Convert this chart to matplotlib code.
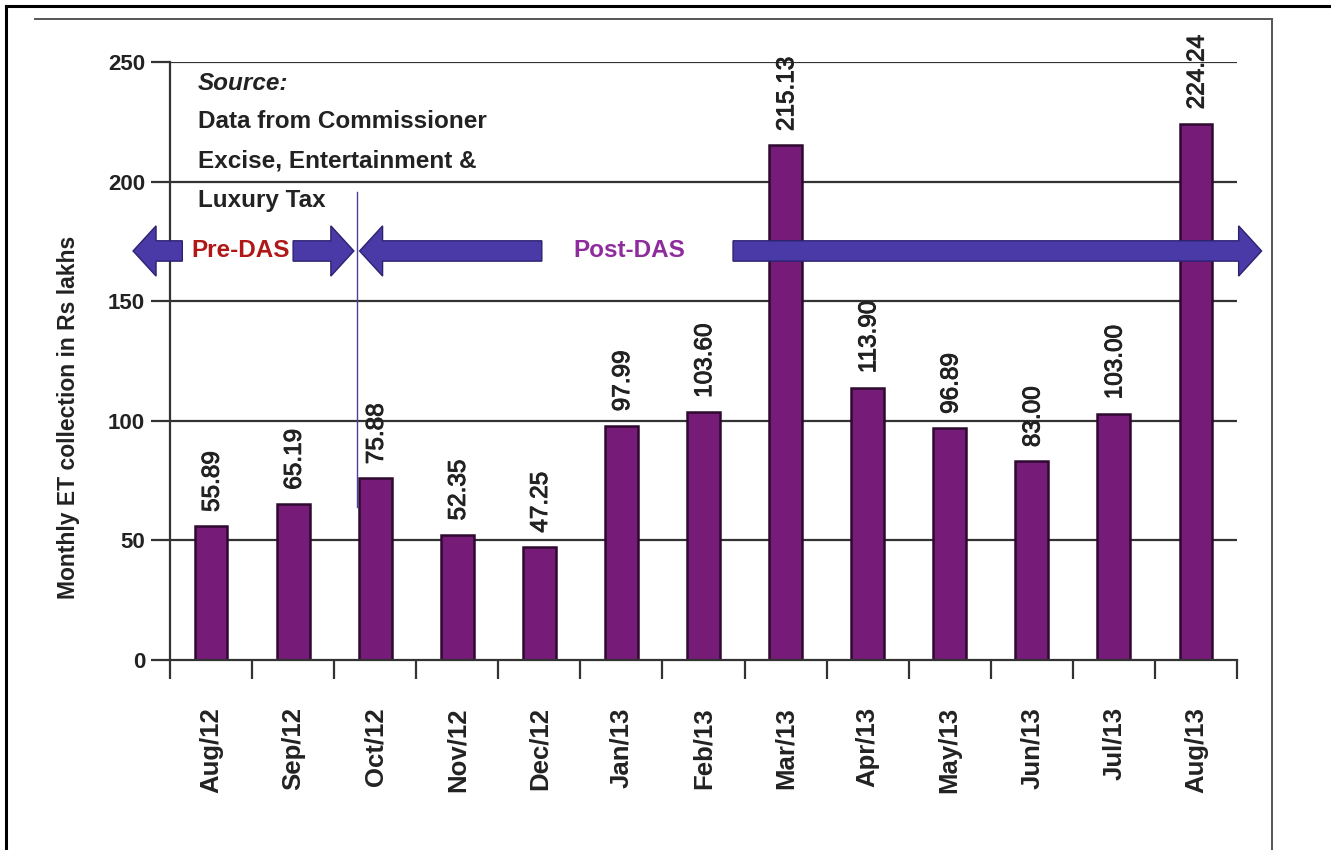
import matplotlib
matplotlib.use("Agg")
import matplotlib.pyplot as plt
from matplotlib.patches import FancyArrow
from matplotlib.lines import Line2D
import matplotlib.patheffects as pe
import numpy as np

months = ["Aug/12", "Sep/12", "Oct/12", "Nov/12", "Dec/12", "Jan/13", "Feb/13",
          "Mar/13", "Apr/13", "May/13", "Jun/13", "Jul/13", "Aug/13"]
values = [55.89, 65.19, 75.88, 52.35, 47.25, 97.99, 103.60,
          215.13, 113.90, 96.89, 83.00, 103.00, 224.24]
value_labels = ["55.89", "65.19", "75.88", "52.35", "47.25", "97.99", "103.60",
                "215.13", "113.90", "96.89", "83.00", "103.00", "224.24"]
yticks = [0, 50, 100, 150, 200, 250]
source_lines = ["Source:", "Data from Commissioner", "Excise, Entertainment &", "Luxury Tax"]

plt.rcParams['font.family'] = ['Liberation Sans', 'DejaVu Sans']

W, H = 1331, 850
fig = plt.figure(figsize=(W / 100, H / 100), dpi=100)
fig.patch.set_facecolor('white')

# outer frames (scan borders)
fig.add_artist(Line2D([6 / W, 6 / W], [0, 1 - 6 / H], color='black', lw=2.2, transform=fig.transFigure))
fig.add_artist(Line2D([6 / W, 1], [1 - 6 / H, 1 - 6 / H], color='black', lw=2.2, transform=fig.transFigure))
fig.add_artist(Line2D([35 / W, 1272 / W], [1 - 19 / H, 1 - 19 / H], color='#555555', lw=1.4, transform=fig.transFigure))
fig.add_artist(Line2D([1272 / W, 1272 / W], [0, 1 - 19 / H], color='#555555', lw=1.4, transform=fig.transFigure))

ax = fig.add_axes([170 / W, 1 - 660 / H, (1237 - 170) / W, (660 - 62) / H])
ax.set_facecolor('none')
n = len(months)
x = np.arange(n) + 0.5
ax.set_xlim(0, n)
ax.set_ylim(0, 250)

for yv in yticks[1:]:
    ax.axhline(yv, color='#333333', lw=1.6, zorder=1)

ax.bar(x, values, width=0.4, color='#761c78', edgecolor='#2e0a30', linewidth=1.8, zorder=2)

thick = [pe.withStroke(linewidth=0.7, foreground='#222222')]
for xi, v, lab in zip(x, values, value_labels):
    ax.text(xi + 0.02, v + 6, lab, rotation=90, ha='center', va='bottom',
            fontsize=17.5, color='#222222', zorder=5, path_effects=thick)

for s in ['top', 'right']:
    ax.spines[s].set_visible(False)
for s in ['left', 'bottom']:
    ax.spines[s].set_color('#333333')
    ax.spines[s].set_linewidth(1.6)

ax.set_yticks(yticks)
ax.set_yticklabels([str(t) for t in yticks], fontsize=16, fontweight='bold', color='#222222')
ax.tick_params(axis='y', length=14, width=1.6, color='#333333', pad=4)

ax.set_xticks(np.arange(n + 1))
ax.set_xticklabels([])
ax.tick_params(axis='x', which='major', length=14, width=1.6, color='#333333', direction='out')
ax.set_xticks(x, minor=True)
ax.set_xticklabels(months, minor=True, rotation=90, fontsize=18.5, fontweight='bold', color='#222222')
ax.tick_params(axis='x', which='minor', length=0, pad=34)

ax.set_ylabel("Monthly ET collection in Rs lakhs", fontsize=16.5, fontweight='bold', color='#222222')
ax.yaxis.set_label_coords(-0.084, 0.405)

# source text
ys = [241, 225, 208.5, 192]
for i, (t, yv) in enumerate(zip(source_lines, ys)):
    ax.text(0.34, yv, t, ha='left', va='center', fontsize=17.5, fontweight='bold',
            fontstyle='italic' if i == 0 else 'normal', color='#222222', zorder=6)

# divider line
ax.plot([2.28, 2.28], [64, 195.5], color='#4a3f9a', lw=1.0, zorder=6, clip_on=False)

acol = '#4a3aa8'
aedge = '#2c2270'
ay = 171.0
shaft_w = 8.5
head_w = 21.0
head_l = 0.28

def arrow(x0, x1):
    a = FancyArrow(x0, ay, x1 - x0, 0, width=shaft_w, head_width=head_w, head_length=head_l,
                   length_includes_head=True, facecolor=acol, edgecolor=aedge, lw=1.0,
                   zorder=7, clip_on=False)
    ax.add_patch(a)

# Pre-DAS arrows
arrow(0.15, -0.45)
arrow(1.5, 2.24)
ax.text(0.86, ay, "Pre-DAS", ha='center', va='center', fontsize=17.5, fontweight='bold',
        color='#b01818', zorder=8)

# Post-DAS arrows
arrow(4.53, 2.31)
arrow(6.86, 13.3)
ax.text(5.6, ay, "Post-DAS", ha='center', va='center', fontsize=17.5, fontweight='bold',
        color='#8e2c9e', zorder=8)

fig.savefig("out.png", dpi=100, facecolor='white')
